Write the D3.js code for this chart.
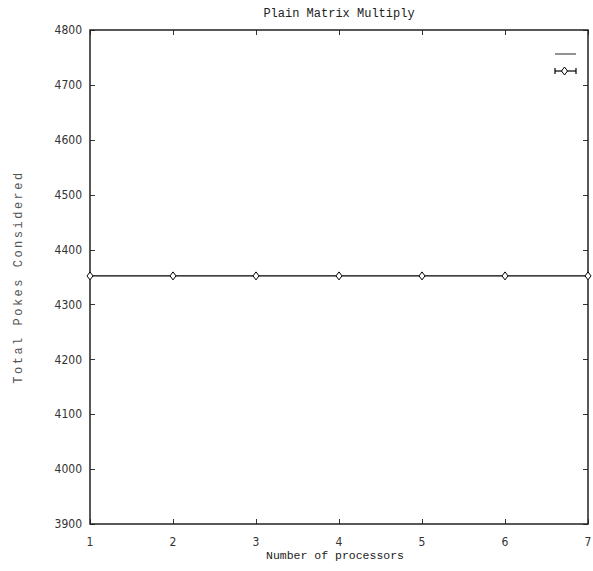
<!DOCTYPE html>
<html><head><meta charset="utf-8">
<script src="https://cdn.jsdelivr.net/npm/d3@7"></script>
<style>body{margin:0;background:#fff}</style>
</head><body>
<script>
const processors = [1, 2, 3, 4, 5, 6, 7];
const pokes = [4352, 4352, 4352, 4352, 4352, 4352, 4352];
const xTicks = [1, 2, 3, 4, 5, 6, 7];
const yTicks = [3900, 4000, 4100, 4200, 4300, 4400, 4500, 4600, 4700, 4800];
const title = "Plain Matrix Multiply";
const xLabel = "Number of processors";
const yLabel = "Total Pokes Considered";

const W = 593, H = 571;
const m = {l: 90, r: 5, t: 30, b: 47};
const svg = d3.select("body").append("svg").attr("width", W).attr("height", H);
const x = d3.scaleLinear().domain([1, 7]).range([m.l, W - m.r]);
const y = d3.scaleLinear().domain([3900, 4800]).range([H - m.b, m.t]);
const tickFont = "'DejaVu Sans Condensed','Liberation Sans Narrow',sans-serif";
const monoFont = "'Liberation Mono','DejaVu Sans Mono',monospace";
const tl = 5;

// ticks (inward, mirrored)
const g = svg.append("g").attr("stroke", "#333").attr("stroke-width", 1);
yTicks.forEach(v => {
  const yy = Math.round(y(v)) + 0.5;
  g.append("line").attr("x1", x(1)).attr("x2", x(1) + tl).attr("y1", yy).attr("y2", yy);
  g.append("line").attr("x1", x(7)).attr("x2", x(7) - tl).attr("y1", yy).attr("y2", yy);
});
xTicks.forEach(v => {
  const xx = Math.round(x(v)) + 0.5;
  g.append("line").attr("x1", xx).attr("x2", xx).attr("y1", y(3900)).attr("y2", y(3900) - tl);
  g.append("line").attr("x1", xx).attr("x2", xx).attr("y1", y(4800)).attr("y2", y(4800) + tl);
});

svg.append("rect").attr("x", x(1)).attr("y", y(4800))
  .attr("width", x(7) - x(1)).attr("height", y(3900) - y(4800))
  .attr("fill", "none").attr("stroke", "#222").attr("stroke-width", 1.5);

// tick labels
svg.append("g").selectAll("text").data(yTicks).join("text")
  .attr("x", x(1) - 8).attr("y", d => y(d)).attr("dy", "0.35em")
  .attr("text-anchor", "end").attr("font-family", tickFont).attr("font-size", 12).attr("fill", "#333")
  .text(d => d);
svg.append("g").selectAll("text").data(xTicks).join("text")
  .attr("x", d => x(d)).attr("y", y(3900) + 22)
  .attr("text-anchor", "middle").attr("font-family", tickFont).attr("font-size", 12).attr("fill", "#333")
  .text(d => d);

// titles
svg.append("text").attr("x", (x(1) + x(7)) / 2).attr("y", 17).attr("text-anchor", "middle")
  .attr("font-family", monoFont).attr("font-size", 12).attr("fill", "#222").text(title);
svg.append("text").attr("x", (x(1) + x(7)) / 2 - 4).attr("y", 559).attr("text-anchor", "middle")
  .attr("font-family", monoFont).attr("font-size", 11.5).attr("fill", "#222").text(xLabel);
svg.append("text").attr("transform", `translate(22,${(y(3900) + y(4800)) / 2}) rotate(-90)`)
  .attr("text-anchor", "middle").attr("letter-spacing", 2.5)
  .attr("font-family", monoFont).attr("font-size", 12).attr("fill", "#555").text(yLabel);

// data line
const line = d3.line().x((d, i) => x(processors[i])).y(d => y(d));
svg.append("path").datum(pokes).attr("d", line).attr("fill", "none").attr("stroke", "#000").attr("stroke-width", 1.3);

const diamond = (cx, cy) => `M${cx},${cy - 4}L${cx + 3},${cy}L${cx},${cy + 4}L${cx - 3},${cy}Z`;
svg.append("g").selectAll("path").data(pokes).join("path")
  .attr("d", (d, i) => diamond(x(processors[i]), y(d)))
  .attr("fill", "#fff").attr("stroke", "#000").attr("stroke-width", 1);

// legend
const lx1 = 555, lx2 = 576;
svg.append("line").attr("x1", lx1).attr("x2", lx2).attr("y1", 54).attr("y2", 54)
  .attr("stroke", "#555").attr("stroke-width", 1.3);
const ly = 71;
const lg = svg.append("g").attr("stroke", "#000").attr("stroke-width", 1.2);
lg.append("line").attr("x1", lx1).attr("x2", lx2).attr("y1", ly).attr("y2", ly);
lg.append("line").attr("x1", lx1).attr("x2", lx1).attr("y1", ly - 3).attr("y2", ly + 3);
lg.append("line").attr("x1", lx2).attr("x2", lx2).attr("y1", ly - 3).attr("y2", ly + 3);
svg.append("path").attr("d", diamond((lx1 + lx2) / 2 - 1, ly)).attr("fill", "#fff").attr("stroke", "#000");
</script>
</body></html>
